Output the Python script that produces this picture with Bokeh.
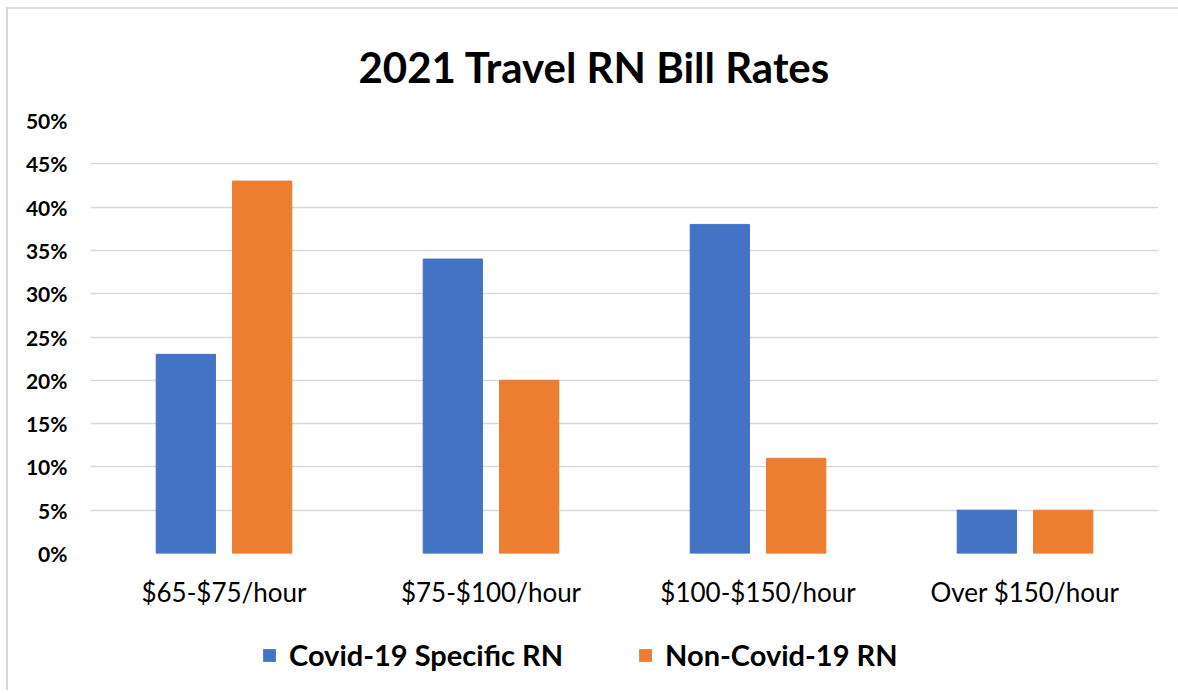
from bokeh.plotting import figure
from bokeh.layouts import column
from bokeh.models import FactorRange, Legend, LegendItem, NumeralTickFormatter, SingleIntervalTicker
from bokeh.transform import dodge
from bokeh.embed import file_html
from bokeh.resources import INLINE

categories = ["$65-$75/hour", "$75-$100/hour", "$100-$150/hour", "Over $150/hour"]
covid_rn = [0.23, 0.34, 0.38, 0.05]
non_covid_rn = [0.43, 0.20, 0.11, 0.05]
series_names = ["Covid-19 Specific RN", "Non-Covid-19 RN"]
colors = ["#4472C4", "#ED7D31"]

data = dict(cat=categories, covid=covid_rn, noncovid=non_covid_rn)

p = figure(x_range=FactorRange(*categories), y_range=(0, 0.5),
           frame_width=1068, frame_height=433, output_backend="svg", toolbar_location=None,
           min_border_left=82, min_border_right=20, min_border_top=111, min_border_bottom=50)

r1 = p.vbar(x=dodge("cat", -0.143, range=p.x_range), top="covid", width=0.222,
            source=data, color=colors[0])
r2 = p.vbar(x=dodge("cat", 0.143, range=p.x_range), top="noncovid", width=0.222,
            source=data, color=colors[1])

p.title.text = "2021 Travel RN Bill Rates"
p.title.align = "left"
p.title.offset = 268
p.title.text_font = "Lato"
p.title.text_font_size = "42px"
p.title.text_font_style = "bold"
p.title.text_color = "#000000"
p.title.standoff = 57

p.outline_line_color = None
p.xgrid.grid_line_color = None
p.ygrid.grid_line_color = "#d9d9d9"
p.ygrid.grid_line_width = 1.5
p.yaxis.ticker = SingleIntervalTicker(interval=0.05)
p.yaxis.formatter = NumeralTickFormatter(format="0%")
p.yaxis.axis_line_color = None
p.yaxis.major_tick_line_color = None
p.yaxis.minor_tick_line_color = None
p.yaxis.major_label_text_font = "Lato"
p.yaxis.major_label_text_font_size = "21px"
p.yaxis.major_label_text_font_style = "bold"
p.yaxis.major_label_text_color = "#000000"
p.yaxis.major_label_standoff = 17

p.xaxis.axis_line_color = None
p.xaxis.major_tick_line_color = None
p.xaxis.major_label_text_font = "Lato"
p.xaxis.major_label_text_font_size = "26px"
p.xaxis.major_label_text_color = "#000000"
p.xaxis.major_label_standoff = 16

# legend strip below the chart (its bars lie far below its visible y range)
lg = figure(width=1170, height=80, x_range=FactorRange(*categories), y_range=(100, 101),
            output_backend="svg", toolbar_location=None,
            x_axis_location=None, y_axis_location=None,
            min_border=0)
lg.grid.visible = False
lg.outline_line_color = None
l1 = lg.vbar(x=dodge("cat", -0.143, range=lg.x_range), top="covid", width=0.222,
             source=data, fill_color=colors[0], line_color=None)
l2 = lg.vbar(x=dodge("cat", 0.143, range=lg.x_range), top="noncovid", width=0.222,
             source=data, fill_color=colors[1], line_color=None)
legend = Legend(items=[LegendItem(label=series_names[0], renderers=[l1]),
                       LegendItem(label=series_names[1], renderers=[l2])],
                orientation="horizontal", location=(171, 18),
                label_text_font="Lato", label_text_font_size="29px",
                label_text_font_style="bold", label_text_color="#000000",
                glyph_width=16, glyph_height=16, label_standoff=12, spacing=74,
                border_line_color=None, background_fill_alpha=0, margin=0, padding=0)
lg.add_layout(legend, "center")

layout = column(p, lg, spacing=0)
layout.styles = {"border-top": "2px solid #d9d9d9", "border-left": "2px solid #d9d9d9",
                 "border-right": "none", "border-bottom": "none",
                 "margin-left": "6px", "margin-top": "7px"}

open("out.html", "w").write(file_html(layout, INLINE))
